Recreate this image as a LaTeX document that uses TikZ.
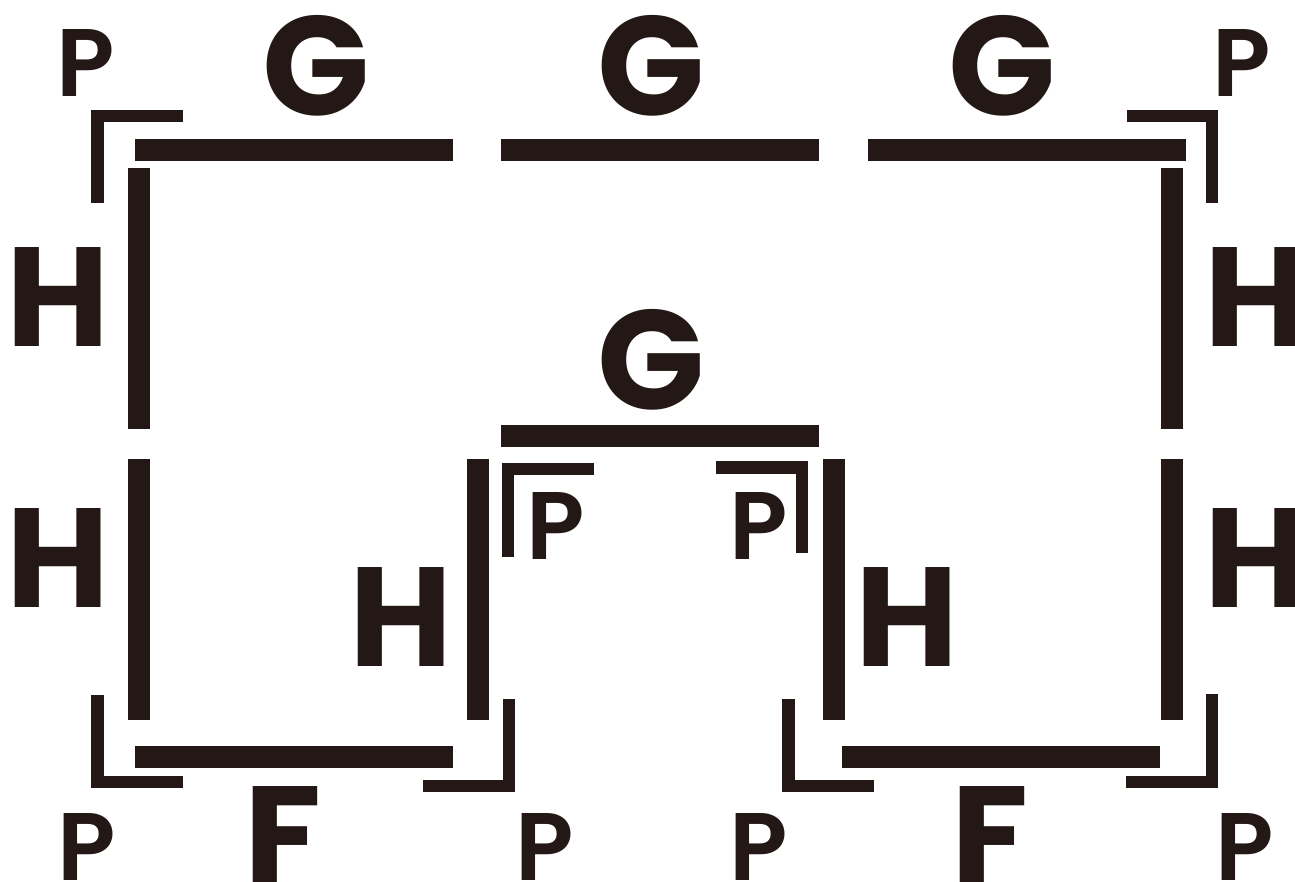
\documentclass[tikz,border=0pt]{standalone}
\usepackage{fontspec}
\setmainfont{Poppins}
\newfontfamily\psemi{Poppins SemiBold}
\definecolor{ink}{HTML}{231815}
\tikzset{
  bar/.style={fill=ink},
  bracket/.style={draw=ink, line width=12.5pt, line join=miter},
  biglabel/.style={inner sep=0pt, anchor=base, text=ink,
    font=\fontsize{141}{141}\selectfont\bfseries},
  smalllabel/.style={inner sep=0pt, anchor=base, text=ink,
    font=\fontsize{96}{96}\selectfont\psemi}
}
\begin{document}
\begin{tikzpicture}[x=1pt,y=-1pt]
\useasboundingbox (0,0) rectangle (1295,882);

% thick bars: top row
\fill[bar] (135,139) rectangle (453,161);
\fill[bar] (501,139) rectangle (819,161);
\fill[bar] (868,139) rectangle (1186,161);
% middle bar
\fill[bar] (501,425) rectangle (819,447);
% bottom bars
\fill[bar] (135,746) rectangle (453,768);
\fill[bar] (842,746) rectangle (1160,768);
% outer verticals
\fill[bar] (128,168) rectangle (150,429);
\fill[bar] (128,459) rectangle (150,720);
\fill[bar] (1161,168) rectangle (1183,429);
\fill[bar] (1161,459) rectangle (1183,720);
% inner verticals
\fill[bar] (467,459) rectangle (489,720);
\fill[bar] (823,459) rectangle (845,720);

% corner brackets
\draw[bracket] (97.25,203) -- (97.25,116.25) -- (183,116.25);
\draw[bracket] (1127,116.25) -- (1211.75,116.25) -- (1211.75,203);
\draw[bracket] (594,468.75) -- (507.75,468.75) -- (507.75,557);
\draw[bracket] (716,467.25) -- (801.75,467.25) -- (801.75,553);
\draw[bracket] (97.25,695) -- (97.25,781.75) -- (183,781.75);
\draw[bracket] (423,785.75) -- (508.75,785.75) -- (508.75,699);
\draw[bracket] (788.25,699) -- (788.25,785.75) -- (874,785.75);
\draw[bracket] (1126,781.75) -- (1211.75,781.75) -- (1211.75,694);

% G labels
\node[biglabel] (g1) at (316.5,116) {G};
\node[biglabel] (g2) at (651.5,116) {G};
\node[biglabel] (g3) at (1002.5,116) {G};
\node[biglabel] (g4) at (651.5,409) {G};
% H labels
\node[biglabel] (hl1) at (58,347) {H};
\node[biglabel] (hl2) at (58,607) {H};
\node[biglabel] (hr1) at (1256,347) {H};
\node[biglabel] (hr2) at (1256,607) {H};
\node[biglabel] (hi1) at (401,666) {H};
\node[biglabel] (hi2) at (907.5,666) {H};
% F labels
\node[biglabel] (f1) at (283.5,885) {F};
\node[biglabel] (f2) at (990.5,885) {F};
% P labels
\node[smalllabel] (p1) at (85.5,97) {P};
\node[smalllabel] (p2) at (1242,97) {P};
\node[smalllabel] (p3) at (555.5,559) {P};
\node[smalllabel] (p4) at (758.5,559) {P};
\node[smalllabel] (p5) at (86.5,880) {P};
\node[smalllabel] (p6) at (545,880) {P};
\node[smalllabel] (p7) at (759,880) {P};
\node[smalllabel] (p8) at (1244.5,880) {P};
\end{tikzpicture}
\end{document}
